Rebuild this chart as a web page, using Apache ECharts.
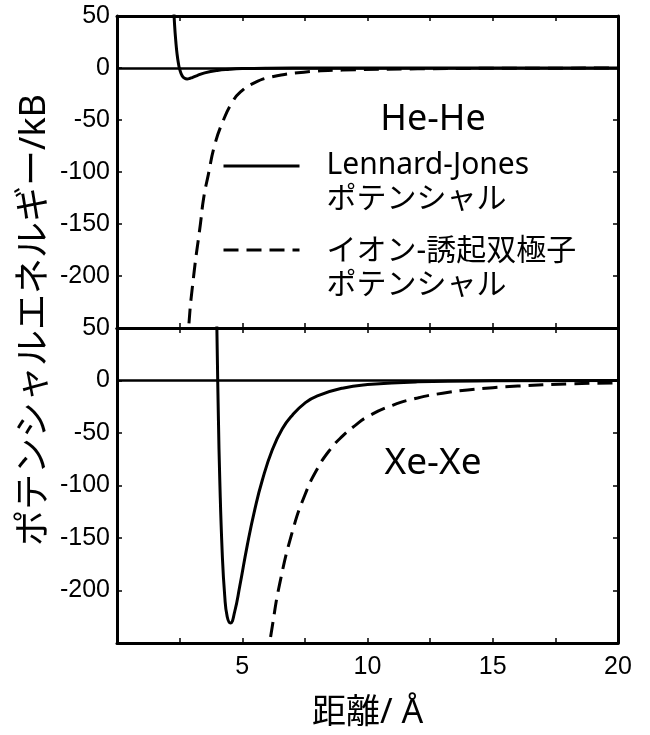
<!DOCTYPE html>
<html>
<head>
<meta charset="utf-8">
<script src="https://cdn.jsdelivr.net/npm/echarts@6/dist/echarts.min.js"></script>
<style>
  html, body { margin: 0; padding: 0; background: #fff; }
  #chart { width: 650px; height: 735px; }
</style>
</head>
<body>
<div id="chart"></div>
<script>
// He-He
const heLjX = [2.25, 2.3, 2.35, 2.4, 2.45, 2.5, 2.6, 2.7, 2.8, 2.9, 3.0, 3.2, 3.5, 4.0, 4.5, 5.0, 6.0, 8.0, 12, 20]
const heLjY = [65, 41, 25, 13, 4.7, -1, -7.4, -9.9, -10.5, -10.1, -9.2, -7.3, -4.7, -2.3, -1.2, -0.6, -0.2, -0.04, 0, 0]
const heIonX = [2.8, 2.86, 3.06, 3.33, 3.46, 3.65, 3.9, 4.25, 4.6, 4.93, 5.5, 6.2, 7.46, 9, 12, 15, 20]
const heIonY = [-290, -250, -200, -150, -125, -102, -74, -50, -33, -23, -14, -8.5, -4, -2, -0.8, -0.3, -0.1]
// Xe-Xe
const xeLjX = [3.95, 3.97, 4.0, 4.05, 4.1, 4.2, 4.3, 4.4, 4.53, 4.7, 4.9, 5.2, 5.5, 5.8, 6.2, 6.6, 7.0, 7.5, 8, 9, 10, 12, 15, 20]
const xeLjY = [114, 78, 30, -38, -92, -164, -205, -225, -231, -220, -196, -157, -123, -95, -66, -46, -33, -21.5, -14.6, -7.3, -3.9, -1.3, -0.34, -0.06]
const xeIonX = [6.0, 6.2, 6.5, 7.0, 7.5, 8.0, 8.5, 9.0, 9.5, 10, 11, 12, 13, 14, 15, 16, 18, 20]
const xeIonY = [-266, -234, -193, -144, -109, -84, -66, -53, -43, -34.5, -23.6, -16.6, -12.1, -9.0, -6.8, -5.3, -3.3, -2.2]

const xTicks = [5, 10, 15, 20]
const ljName = 'Lennard-Jones\nポテンシャル'
const ionName = 'イオン-誘起双極子\nポテンシャル'

const pairs = (xs, ys) => xs.map((x, i) => [x, ys[i]])

const labelFont = 'Liberation Sans'
const textFont = '"Noto Sans", "Noto Sans CJK JP", sans-serif'

let myChart = echarts.init(document.getElementById('chart'))

function xAxisOf(gridIndex, position, showLabel) {
  return {
    type: 'value',
    gridIndex: gridIndex,
    position: position,
    min: 0,
    max: 20,
    interval: 2.5,
    axisLine: { show: true, onZero: false, lineStyle: { color: '#000', width: 3 } },
    axisTick: { show: true, inside: true, length: 5, lineStyle: { color: '#000', width: 1.5 } },
    splitLine: { show: false },
    axisLabel: {
      show: showLabel,
      margin: 12,
      color: '#000',
      fontSize: 25,
      fontFamily: labelFont,
      formatter: function (v) {
        return xTicks.indexOf(v) >= 0 ? String(v) : ''
      }
    }
  }
}

function yAxisOf(gridIndex, position, showLabel) {
  return {
    type: 'value',
    gridIndex: gridIndex,
    position: position,
    min: -250,
    max: 50,
    interval: 50,
    axisLine: { show: true, onZero: false, lineStyle: { color: '#000', width: 3 } },
    axisTick: { show: true, inside: true, length: 5, lineStyle: { color: '#000', width: 1.5 } },
    splitLine: { show: false },
    axisLabel: {
      show: showLabel,
      showMinLabel: false,
      margin: 7,
      color: '#000',
      fontSize: 25,
      fontFamily: labelFont
    }
  }
}

function curve(name, xs, ys, gridIndex, dashed) {
  return {
    name: name,
    type: 'line',
    xAxisIndex: gridIndex * 2,
    yAxisIndex: gridIndex * 2,
    data: pairs(xs, ys),
    symbol: 'none',
    smooth: 0.5,
    clip: true,
    lineStyle: { color: '#000', width: 3, type: dashed ? [15, 8] : 'solid' },
    itemStyle: { color: '#000' }
  }
}

const zeroLine = {
  silent: true,
  symbol: 'none',
  label: { show: false },
  lineStyle: { color: '#000', width: 2.5, type: 'solid' },
  data: [{ yAxis: 0 }]
}

const series = [
  curve(ljName, heLjX, heLjY, 0, false),
  curve(ionName, heIonX, heIonY, 0, true),
  curve(ljName, xeLjX, xeLjY, 1, false),
  curve(ionName, xeIonX, xeIonY, 1, true)
]
series[0].markLine = zeroLine
series[2].markLine = zeroLine

// legend text: a spacer line on top so the icon sits where the reference puts it
function legendOf(name, top, spacer) {
  return {
    data: [name],
    left: 222,
    top: top,
    padding: 0,
    itemWidth: 76,
    itemHeight: 14,
    selectedMode: false,
    itemStyle: { opacity: 0 },
    lineStyle: { width: 3 },
    formatter: function (n) {
      return '{s| }\n' + n.split('\n').map(function (t) { return '{a|' + t + '}' }).join('\n')
    },
    textStyle: {
      padding: [0, 0, 0, 22],
      rich: {
        s: { fontSize: 4, lineHeight: spacer },
        a: { color: '#000', fontSize: 30, lineHeight: 34, fontFamily: textFont }
      }
    }
  }
}

myChart.setOption({
  backgroundColor: '#fff',
  animation: false,
  grid: [
    { left: 117, right: 32, top: 16, height: 312 },
    { left: 117, right: 32, top: 328, height: 315 }
  ],
  xAxis: [
    xAxisOf(0, 'bottom', false),
    xAxisOf(0, 'top', false),
    Object.assign(xAxisOf(1, 'bottom', true), {
      name: '距離/ Å',
      nameLocation: 'middle',
      nameGap: 53,
      nameTextStyle: { color: '#000', fontSize: 34, fontFamily: textFont }
    }),
    xAxisOf(1, 'top', false)
  ],
  yAxis: [
    yAxisOf(0, 'left', true),
    yAxisOf(0, 'right', false),
    yAxisOf(1, 'left', true),
    yAxisOf(1, 'right', false)
  ],
  legend: [
    legendOf(ljName, 130, 32),
    legendOf(ionName, 214, 36)
  ],
  graphic: [
    {
      type: 'text',
      x: 35,
      y: 320,
      rotation: Math.PI / 2,
      style: {
        text: 'ポテンシャルエネルギー/kB',
        fill: '#000',
        font: '36px ' + textFont,
        textAlign: 'center',
        textVerticalAlign: 'middle'
      }
    },
    {
      type: 'text',
      x: 433,
      y: 120,
      style: {
        text: 'He-He',
        fill: '#000',
        font: '36px ' + textFont,
        textAlign: 'center',
        textVerticalAlign: 'middle'
      }
    },
    {
      type: 'text',
      x: 433,
      y: 463,
      style: {
        text: 'Xe-Xe',
        fill: '#000',
        font: '37px ' + textFont,
        textAlign: 'center',
        textVerticalAlign: 'middle'
      }
    }
  ],
  series: series
})
</script>
</body>
</html>
